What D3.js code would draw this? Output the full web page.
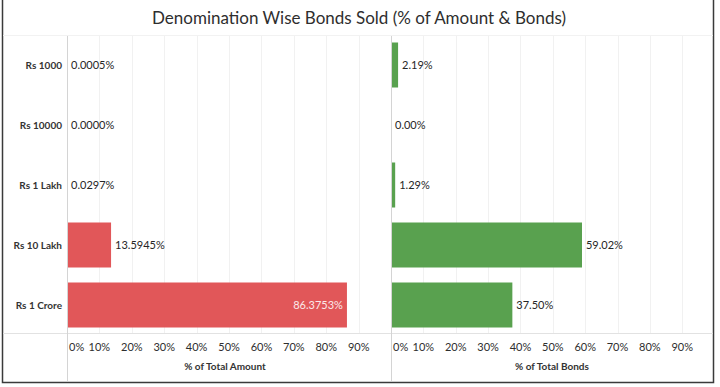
<!DOCTYPE html>
<html>
<head>
<meta charset="utf-8">
<script src="https://cdn.jsdelivr.net/npm/d3@7"></script>
<style>
  body { margin: 0; background: #fff; }
  svg { display: block; font-family: Lato, "Open Sans", sans-serif; }
</style>
</head>
<body>
<script>
'use strict';

// data
const categories = ['Rs 1000', 'Rs 10000', 'Rs 1 Lakh', 'Rs 10 Lakh', 'Rs 1 Crore'];
const amountPct = [0.0005, 0.0000, 0.0297, 13.5945, 86.3753];
const bondsPct = [2.19, 0.00, 1.29, 59.02, 37.50];
const tickValues = [0, 10, 20, 30, 40, 50, 60, 70, 80, 90];

const W = 720, H = 387;
const svg = d3.select('body').append('svg')
    .attr('width', W)
    .attr('height', H);

// frame
svg.append('path')
    .attr('d', `M2.5,0 V382.5 H713.5 V0`)
    .attr('fill', 'none')
    .attr('stroke', '#3a3a3a')
    .attr('stroke-width', 1.5);

svg.append('text')
    .attr('x', 359)
    .attr('y', 24)
    .attr('text-anchor', 'middle')
    .attr('font-size', 17)
    .attr('fill', '#2e2e2e')
    .text('Denomination Wise Bonds Sold (% of Amount & Bonds)');

const y = d3.scaleBand()
    .domain(categories)
    .range([35, 335])
    .paddingInner(0.25)
    .paddingOuter(0.125);

const axisY = 333;

// faint header line and axis line
svg.append('line')
    .attr('x1', 3).attr('x2', 713)
    .attr('y1', 35.5).attr('y2', 35.5)
    .attr('stroke', '#f2f2f2');
svg.append('line')
    .attr('x1', 3).attr('x2', 713)
    .attr('y1', axisY + 0.5).attr('y2', axisY + 0.5)
    .attr('stroke', '#e2e2e2');

// row labels
svg.append('g')
    .selectAll('text')
    .data(categories)
    .join('text')
    .attr('x', 62)
    .attr('y', d => y(d) + y.bandwidth() / 2)
    .attr('dy', '0.35em')
    .attr('text-anchor', 'end')
    .attr('font-size', 10)
    .attr('font-weight', 'bold')
    .attr('fill', '#333')
    .text(d => d);

function panel(values, x, color, title, fmt) {
    const g = svg.append('g');
    const [x0, x1] = x.range();

    // gridlines
    g.append('g')
        .selectAll('line')
        .data(tickValues.filter(t => t > 0))
        .join('line')
        .attr('x1', d => Math.round(x(d)) + 0.5)
        .attr('x2', d => Math.round(x(d)) + 0.5)
        .attr('y1', 36)
        .attr('y2', axisY)
        .attr('stroke', '#f1f1f1');

    // bars
    g.append('g')
        .selectAll('rect')
        .data(values)
        .join('rect')
        .attr('x', x(0))
        .attr('y', (d, i) => y(categories[i]))
        .attr('width', d => x(d) - x(0))
        .attr('height', y.bandwidth())
        .attr('fill', color);

    // zero line
    g.append('line')
        .attr('x1', x0 + 0.5).attr('x2', x0 + 0.5)
        .attr('y1', 36).attr('y2', 381)
        .attr('stroke', '#d4d4d4');

    // value labels, inside the bar when they won't fit past its end
    g.append('g')
        .selectAll('text')
        .data(values)
        .join('text')
        .each(function(d, i) {
            const label = fmt(d);
            const end = x(d);
            const inside = end + 6 + label.length * 5.6 > x1;
            d3.select(this)
                .attr('x', inside ? end - 4 : end + 4)
                .attr('y', y(categories[i]) + y.bandwidth() / 2)
                .attr('dy', '0.35em')
                .attr('text-anchor', inside ? 'end' : 'start')
                .attr('font-size', 11)
                .attr('fill', inside ? '#fbe9e9' : '#262626')
                .text(label);
        });

    // tick labels
    g.append('g')
        .selectAll('text')
        .data(tickValues)
        .join('text')
        .attr('x', d => d === 0 ? x(d) + 2 : x(d))
        .attr('y', 347)
        .attr('dy', '0.35em')
        .attr('text-anchor', d => d === 0 ? 'start' : 'middle')
        .attr('font-size', 11)
        .attr('fill', '#2e2e2e')
        .text(d => d + '%');

    g.append('text')
        .attr('x', (x0 + x1) / 2)
        .attr('y', 366)
        .attr('dy', '0.35em')
        .attr('text-anchor', 'middle')
        .attr('font-size', 10)
        .attr('font-weight', 'bold')
        .attr('fill', '#333')
        .text(title);
}

const xAmount = d3.scaleLinear().domain([0, 97.5]).range([67, 383]);
const xBonds = d3.scaleLinear().domain([0, 99.5]).range([391, 713]);

panel(amountPct, xAmount, '#e15759', '% of Total Amount', d => d.toFixed(4) + '%');
panel(bondsPct, xBonds, '#59a14f', '% of Total Bonds', d => d.toFixed(2) + '%');
</script>
</body>
</html>
